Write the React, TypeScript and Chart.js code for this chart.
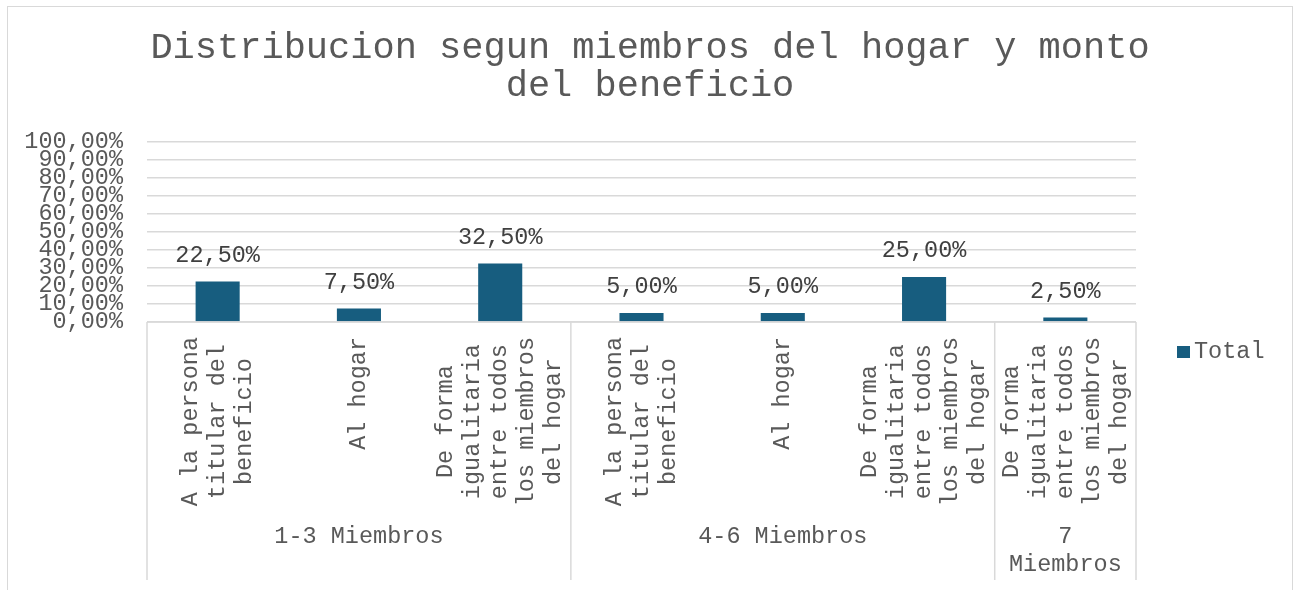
import React, { useEffect, useRef } from "react";
import { Chart, registerables } from "chart.js";

Chart.register(...registerables);

const titleLines = ["Distribucion segun miembros del hogar y monto", "del beneficio"];
const seriesLabel = "Total";
const categoryLines: string[][] = [
  ["A la persona", "titular del", "beneficio"],
  ["Al hogar"],
  ["De forma", "igualitaria", "entre todos", "los miembros", "del hogar"],
  ["A la persona", "titular del", "beneficio"],
  ["Al hogar"],
  ["De forma", "igualitaria", "entre todos", "los miembros", "del hogar"],
  ["De forma", "igualitaria", "entre todos", "los miembros", "del hogar"],
];
const groupLines: string[][] = [["1-3 Miembros"], ["4-6 Miembros"], ["7", "Miembros"]];
const groupSizes = [3, 3, 1];
const values = [22.5, 7.5, 32.5, 5.0, 5.0, 25.0, 2.5];
const yMax = 100;
const yStep = 10;

const FONT = "'Liberation Mono', 'Courier New', monospace";
const TEXT = "#595959";
const GRID = "#d9d9d9";
const BAR = "#175d7f";
const FS = 23.5;

const fmt = (v: number) => v.toFixed(2).replace(".", ",") + "%";

const customPlugin = {
  id: "custom",
  afterDatasetsDraw(chart: any) {
    const ctx = chart.ctx;
    const x = chart.scales.x;
    const area = chart.chartArea;
    const meta = chart.getDatasetMeta(0);
    ctx.save();
    // title
    ctx.fillStyle = TEXT;
    ctx.font = `37px ${FONT}`;
    ctx.textAlign = "center";
    ctx.textBaseline = "middle";
    titleLines.forEach((t, i) => {
      ctx.fillText(t, chart.width / 2, 41 + i * 38);
    });
    // data labels
    ctx.font = `${FS}px ${FONT}`;
    ctx.fillStyle = "#404040";
    meta.data.forEach((bar: any, i: number) => {
      ctx.fillText(fmt(values[i]), bar.x, bar.y - 26);
    });
    // axis line
    ctx.strokeStyle = GRID;
    ctx.lineWidth = 1.5;
    ctx.beginPath();
    ctx.moveTo(area.left, area.bottom);
    ctx.lineTo(area.right, area.bottom);
    ctx.stroke();
    // group separators
    const n = values.length;
    const catW = (area.right - area.left) / n;
    const axisBottom = x.bottom;
    let idx = 0;
    const bounds: number[] = [area.left];
    groupSizes.forEach((s) => {
      idx += s;
      bounds.push(area.left + idx * catW);
    });
    bounds.forEach((bx) => {
      ctx.beginPath();
      ctx.moveTo(bx, area.bottom);
      ctx.lineTo(bx, axisBottom);
      ctx.stroke();
    });
    // category labels (rotated)
    ctx.fillStyle = TEXT;
    ctx.font = `${FS}px ${FONT}`;
    categoryLines.forEach((lines, i) => {
      const cx = x.getPixelForValue(i);
      const maxW = Math.max(...lines.map((l) => ctx.measureText(l).width));
      ctx.save();
      ctx.translate(cx, area.bottom + 15);
      ctx.rotate(-Math.PI / 2);
      lines.forEach((l, j) => {
        const ly = (j - (lines.length - 1) / 2) * 27;
        ctx.fillText(l, -maxW / 2, ly);
      });
      ctx.restore();
    });
    // group labels
    groupLines.forEach((lines, g) => {
      const cx = (bounds[g] + bounds[g + 1]) / 2;
      lines.forEach((l, j) => {
        ctx.fillText(l, cx, area.bottom + 215 + j * 28);
      });
    });
    // legend
    const lx = area.right + 41;
    const ly = (area.top + axisBottom) / 2 - 9;
    ctx.fillStyle = BAR;
    ctx.fillRect(lx, ly - 6, 13, 12);
    ctx.fillStyle = TEXT;
    ctx.textAlign = "left";
    ctx.fillText(seriesLabel, lx + 17, ly);
    ctx.restore();
  },
};

export default function App() {
  const ref = useRef<HTMLCanvasElement>(null);
  useEffect(() => {
    if (!ref.current) return;
    const chart = new Chart(ref.current, {
      type: "bar",
      data: {
        labels: categoryLines.map((l) => l.join(" ")),
        datasets: [
          {
            label: seriesLabel,
            data: values,
            backgroundColor: BAR,
            categoryPercentage: 1,
            barPercentage: 0.312,
          },
        ],
      },
      plugins: [customPlugin],
      options: {
        animation: false,
        responsive: false,
        devicePixelRatio: 1,
        layout: { padding: { left: 17, right: 156, top: 135, bottom: 25 } },
        plugins: {
          legend: { display: false },
          tooltip: { enabled: false },
          title: { display: false },
        },
        scales: {
          x: {
            grid: { display: false },
            border: { display: false },
            ticks: { display: false },
            afterFit: (s: any) => {
              s.height = 258;
            },
          },
          y: {
            min: 0,
            max: yMax,
            border: { display: false },
            grid: { color: GRID, lineWidth: 1.5, drawTicks: false },
            afterFit: (s: any) => {
              s.width = 122;
            },
            ticks: {
              stepSize: yStep,
              autoSkip: false,
              padding: 24,
              color: TEXT,
              font: { family: FONT, size: FS },
              callback: (v: any) => fmt(Number(v)),
            },
          },
        },
      },
    } as any);
    return () => chart.destroy();
  }, []);
  return (
    <div
      style={{
        position: "absolute",
        left: 7,
        top: 6,
        width: 1286,
        height: 600,
        border: "1px solid #d9d9d9",
        boxSizing: "border-box",
        background: "#fff",
      }}
    >
      <canvas ref={ref} width={1284} height={598} style={{ display: "block" }} />
    </div>
  );
}
